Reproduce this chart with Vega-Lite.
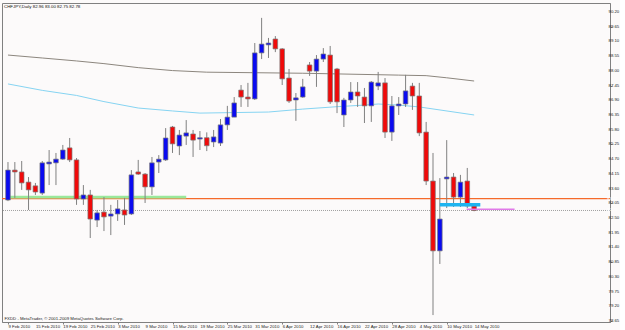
{
  "$schema": "https://vega.github.io/schema/vega-lite/v6.json",
  "width": 608,
  "height": 319,
  "padding": {"left": 1, "top": 3, "right": 0, "bottom": 0},
  "background": "#FCFAFA",
  "config": {
    "view": {"stroke": "#808080", "strokeWidth": 1},
    "font": "Liberation Sans",
    "axis": {"labels": false, "tickSize": 2, "tickColor": "#808080", "domainColor": "#808080", "grid": false}
  },
  "title": {"text": "CHFJPY,Daily  82.96 83.00 82.75 82.78", "anchor": "start", "frame": "group", "orient": "top", "offset": -6, "fontSize": 4.4, "fontWeight": "normal", "font": "Liberation Sans", "color": "#111111", "dx": 2},
  "datasets": {
    "candles": [
      {"i":0,"o":83.17,"h":84.59,"l":83.13,"c":84.29},
      {"i":1,"o":84.29,"h":84.59,"l":83.25,"c":84.22},
      {"i":2,"o":84.22,"h":84.63,"l":83.55,"c":83.81},
      {"i":3,"o":83.84,"h":84.03,"l":82.80,"c":83.55},
      {"i":4,"o":83.70,"h":83.81,"l":83.36,"c":83.47},
      {"i":5,"o":83.43,"h":84.63,"l":83.36,"c":84.56},
      {"i":6,"o":84.52,"h":85.04,"l":83.73,"c":84.59},
      {"i":7,"o":84.56,"h":84.93,"l":83.73,"c":84.70},
      {"i":8,"o":84.70,"h":85.23,"l":84.67,"c":85.04},
      {"i":9,"o":85.12,"h":85.49,"l":84.59,"c":84.67},
      {"i":10,"o":84.67,"h":84.74,"l":82.99,"c":83.21},
      {"i":11,"o":83.21,"h":83.73,"l":82.99,"c":83.36},
      {"i":12,"o":83.36,"h":83.55,"l":81.75,"c":82.46},
      {"i":13,"o":82.42,"h":82.80,"l":82.16,"c":82.69},
      {"i":14,"o":82.72,"h":83.28,"l":82.01,"c":82.54},
      {"i":15,"o":82.57,"h":82.99,"l":81.86,"c":82.65},
      {"i":16,"o":82.65,"h":83.17,"l":82.39,"c":82.84},
      {"i":17,"o":82.80,"h":83.25,"l":82.24,"c":82.61},
      {"i":18,"o":82.65,"h":84.29,"l":82.61,"c":84.11},
      {"i":19,"o":84.22,"h":84.67,"l":84.11,"c":84.14},
      {"i":20,"o":84.14,"h":84.18,"l":83.06,"c":83.66},
      {"i":21,"o":83.66,"h":84.78,"l":83.36,"c":84.56},
      {"i":22,"o":84.59,"h":84.85,"l":84.18,"c":84.70},
      {"i":23,"o":84.67,"h":85.86,"l":84.63,"c":85.49},
      {"i":24,"o":85.90,"h":85.94,"l":84.93,"c":85.27},
      {"i":25,"o":85.19,"h":85.79,"l":84.85,"c":85.60},
      {"i":26,"o":85.56,"h":86.16,"l":85.23,"c":85.68},
      {"i":27,"o":85.64,"h":85.79,"l":84.78,"c":85.41},
      {"i":28,"o":85.45,"h":85.75,"l":85.04,"c":85.50},
      {"i":29,"o":85.50,"h":85.70,"l":85.00,"c":85.20},
      {"i":30,"o":85.34,"h":85.79,"l":85.15,"c":85.53},
      {"i":31,"o":85.30,"h":86.20,"l":85.19,"c":85.98},
      {"i":32,"o":85.98,"h":86.69,"l":85.79,"c":86.27},
      {"i":33,"o":86.27,"h":87.02,"l":86.27,"c":86.80},
      {"i":34,"o":87.28,"h":87.47,"l":86.65,"c":87.02},
      {"i":35,"o":87.02,"h":87.55,"l":86.65,"c":86.95},
      {"i":36,"o":86.95,"h":89.04,"l":86.91,"c":88.67},
      {"i":37,"o":88.67,"h":89.98,"l":88.44,"c":89.00},
      {"i":38,"o":88.97,"h":89.23,"l":88.48,"c":89.04},
      {"i":39,"o":89.19,"h":89.30,"l":88.70,"c":88.82},
      {"i":40,"o":88.82,"h":88.85,"l":87.47,"c":87.70},
      {"i":41,"o":87.73,"h":88.07,"l":86.80,"c":86.87},
      {"i":42,"o":86.91,"h":87.17,"l":86.13,"c":86.99},
      {"i":43,"o":87.02,"h":87.70,"l":86.99,"c":87.40},
      {"i":44,"o":88.22,"h":88.33,"l":87.81,"c":87.99},
      {"i":45,"o":87.99,"h":88.59,"l":87.40,"c":88.44},
      {"i":46,"o":88.44,"h":88.85,"l":88.33,"c":88.63},
      {"i":47,"o":88.59,"h":88.93,"l":86.76,"c":86.84},
      {"i":48,"o":88.07,"h":88.11,"l":86.42,"c":86.84},
      {"i":49,"o":86.35,"h":86.99,"l":85.90,"c":86.91},
      {"i":50,"o":86.91,"h":87.58,"l":86.80,"c":87.21},
      {"i":51,"o":87.21,"h":87.58,"l":86.65,"c":87.06},
      {"i":52,"o":87.02,"h":87.36,"l":86.05,"c":86.69},
      {"i":53,"o":86.69,"h":87.62,"l":86.09,"c":87.58},
      {"i":54,"o":87.43,"h":87.96,"l":87.28,"c":87.55},
      {"i":55,"o":87.55,"h":87.73,"l":85.49,"c":85.71},
      {"i":56,"o":85.71,"h":87.06,"l":85.38,"c":86.69},
      {"i":57,"o":86.69,"h":87.02,"l":86.35,"c":86.76},
      {"i":58,"o":86.76,"h":87.85,"l":86.65,"c":87.25},
      {"i":59,"o":87.43,"h":87.55,"l":86.54,"c":87.06},
      {"i":60,"o":87.06,"h":87.55,"l":85.56,"c":85.68},
      {"i":61,"o":85.71,"h":86.09,"l":83.73,"c":83.88},
      {"i":62,"o":83.88,"h":84.93,"l":78.87,"c":81.27},
      {"i":63,"o":81.27,"h":83.99,"l":80.78,"c":82.46},
      {"i":64,"o":83.96,"h":85.41,"l":82.87,"c":84.03},
      {"i":65,"o":84.03,"h":84.18,"l":82.91,"c":83.28},
      {"i":66,"o":83.28,"h":84.11,"l":82.91,"c":83.84},
      {"i":67,"o":83.88,"h":84.37,"l":82.87,"c":82.95},
      {"i":68,"o":82.96,"h":83.00,"l":82.75,"c":82.78}
    ],
    "ma": [
      {"ma":"slow","i":0,"p":88.59},{"ma":"slow","i":5,"p":88.48},{"ma":"slow","i":10,"p":88.37},{"ma":"slow","i":14,"p":88.27},{"ma":"slow","i":19,"p":88.12},{"ma":"slow","i":24,"p":88.01},{"ma":"slow","i":29,"p":87.95},{"ma":"slow","i":43,"p":87.91},{"ma":"slow","i":57,"p":87.84},{"ma":"slow","i":61,"p":87.82},{"ma":"slow","i":64,"p":87.74},{"ma":"slow","i":68,"p":87.62},
      {"ma":"fast","i":0,"p":87.51},{"ma":"fast","i":5,"p":87.27},{"ma":"fast","i":10,"p":87.08},{"ma":"fast","i":14,"p":86.85},{"ma":"fast","i":19,"p":86.61},{"ma":"fast","i":24,"p":86.50},{"ma":"fast","i":28,"p":86.42},{"ma":"fast","i":38,"p":86.46},{"ma":"fast","i":43,"p":86.57},{"ma":"fast","i":48,"p":86.66},{"ma":"fast","i":52,"p":86.72},{"ma":"fast","i":54,"p":86.76},{"ma":"fast","i":57,"p":86.72},{"ma":"fast","i":60,"p":86.65},{"ma":"fast","i":68,"p":86.35}
    ],
    "ylabels": [
      {"v":78.65,"t":"78.65"},{"v":79.2,"t":"79.20"},{"v":79.75,"t":"79.75"},{"v":80.3,"t":"80.30"},{"v":80.85,"t":"80.85"},{"v":81.4,"t":"81.40"},{"v":81.95,"t":"81.95"},{"v":82.5,"t":"82.50"},{"v":83.05,"t":"83.05"},{"v":83.6,"t":"83.60"},{"v":84.15,"t":"84.15"},{"v":84.7,"t":"84.70"},{"v":85.25,"t":"85.25"},{"v":85.8,"t":"85.80"},{"v":86.35,"t":"86.35"},{"v":86.9,"t":"86.90"},{"v":87.45,"t":"87.45"},{"v":88.0,"t":"88.00"},{"v":88.55,"t":"88.55"},{"v":89.1,"t":"89.10"},{"v":89.65,"t":"89.65"},{"v":90.2,"t":"90.20"}
    ],
    "xlabels": [
      {"i":0,"t":"9 Feb 2010"},{"i":4,"t":"15 Feb 2010"},{"i":8,"t":"19 Feb 2010"},{"i":12,"t":"25 Feb 2010"},{"i":16,"t":"3 Mar 2010"},{"i":20,"t":"9 Mar 2010"},{"i":24,"t":"15 Mar 2010"},{"i":28,"t":"19 Mar 2010"},{"i":32,"t":"25 Mar 2010"},{"i":36,"t":"31 Mar 2010"},{"i":40,"t":"6 Apr 2010"},{"i":44,"t":"12 Apr 2010"},{"i":48,"t":"16 Apr 2010"},{"i":52,"t":"22 Apr 2010"},{"i":56,"t":"28 Apr 2010"},{"i":60,"t":"4 May 2010"},{"i":64,"t":"10 May 2010"},{"i":68,"t":"14 May 2010"}
    ]
  },
  "layer": [
    {
      "data": {"name": "candles"},
      "mark": {"type": "rule", "color": "#808080", "strokeWidth": 1, "clip": true, "opacity": 0},
      "encoding": {
        "x": {"field": "i", "type": "quantitative", "scale": {"domain": [-0.143, 87.09], "nice": false, "zero": false},
          "axis": {"values": [0,4,8,12,16,20,24,28,32,36,40,44,48,52,56,60,64,68], "labels": false,
            "title": "FXDD - MetaTrader, © 2001-2009 MetaQuotes Software Corp.", "titleFontSize": 4.3, "titleFont": "Liberation Sans", "titleFontWeight": "normal", "titleColor": "#222222",
            "titleAnchor": "start", "titleAlign": "left", "titleBaseline": "bottom", "titleX": 2, "titleY": -1.5}},
        "y": {"field": "l", "type": "quantitative", "scale": {"domain": [78.611, 90.536], "nice": false, "zero": false},
          "axis": {"orient": "right", "values": [78.65,79.2,79.75,80.3,80.85,81.4,81.95,82.5,83.05,83.6,84.15,84.7,85.25,85.8,86.35,86.9,87.45,88.0,88.55,89.1,89.65,90.2], "labels": false, "title": null}},
        "y2": {"field": "h"}
      }
    },
    {
      "mark": {"type": "rect", "color": "#90EE90", "opacity": 0.85},
      "encoding": {
        "x": {"datum": 64.85, "type": "quantitative"},
        "x2": {"datum": 68.0},
        "y": {"datum": 84.52, "type": "quantitative"},
        "y2": {"datum": 82.84}
      }
    },
    {
      "data": {"values": [{"p": 82.78}]},
      "mark": {"type": "rule", "color": "#A0A0A0", "strokeWidth": 1, "strokeDash": [1, 1]},
      "encoding": {"y": {"field": "p", "type": "quantitative"}}
    },
    {
      "data": {"values": [{"p": 83.22}]},
      "mark": {"type": "rule", "color": "#F56A2A", "strokeWidth": 1.3},
      "encoding": {"y": {"field": "p", "type": "quantitative"}}
    },
    {
      "data": {"values": [{"x1": -0.2, "x2": 26.0, "p": 83.28}]},
      "mark": {"type": "rule", "color": "#9AE89A", "strokeWidth": 2.6, "clip": true},
      "encoding": {
        "x": {"field": "x1", "type": "quantitative"},
        "x2": {"field": "x2"},
        "y": {"field": "p", "type": "quantitative"}
      }
    },
    {
      "data": {"name": "ma"},
      "mark": {"type": "line", "strokeWidth": 1, "clip": true},
      "encoding": {
        "x": {"field": "i", "type": "quantitative"},
        "y": {"field": "p", "type": "quantitative"},
        "color": {"field": "ma", "type": "nominal", "scale": {"domain": ["slow", "fast"], "range": ["#8C867E", "#86D4F2"]}, "legend": null}
      }
    },
    {
      "data": {"name": "candles"},
      "mark": {"type": "rule", "color": "#808080", "strokeWidth": 1, "clip": true},
      "encoding": {
        "x": {"field": "i", "type": "quantitative"},
        "y": {"field": "l", "type": "quantitative"},
        "y2": {"field": "h"}
      }
    },
    {
      "data": {"name": "candles"},
      "mark": {"type": "bar", "width": 4.6, "stroke": "#7A7A7A", "strokeWidth": 0.7, "clip": true},
      "encoding": {
        "x": {"field": "i", "type": "quantitative"},
        "y": {"field": "o", "type": "quantitative"},
        "y2": {"field": "c"},
        "color": {"condition": {"test": "datum.c >= datum.o", "value": "#0A0AF0"}, "value": "#F00A0A"}
      }
    },
    {
      "data": {"values": [{"x1": 63.0, "x2": 68.9, "p": 82.99}]},
      "mark": {"type": "rule", "color": "#1EB4F0", "strokeWidth": 3.5},
      "encoding": {
        "x": {"field": "x1", "type": "quantitative"},
        "x2": {"field": "x2"},
        "y": {"field": "p", "type": "quantitative"}
      }
    },
    {
      "data": {"values": [{"x1": 66.9, "x2": 73.9, "p": 82.83}]},
      "mark": {"type": "rule", "color": "#E07AE8", "strokeWidth": 1.5},
      "encoding": {
        "x": {"field": "x1", "type": "quantitative"},
        "x2": {"field": "x2"},
        "y": {"field": "p", "type": "quantitative"}
      }
    },
    {
      "data": {"name": "ylabels"},
      "mark": {"type": "text", "align": "left", "baseline": "middle", "dx": 3.5, "fontSize": 4.3, "font": "Liberation Sans", "color": "#222222", "clip": false},
      "encoding": {
        "x": {"datum": 87.09, "type": "quantitative"},
        "y": {"field": "v", "type": "quantitative"},
        "text": {"field": "t"}
      }
    },
    {
      "data": {"name": "xlabels"},
      "mark": {"type": "text", "align": "left", "baseline": "top", "dy": 3, "dx": 0.5, "fontSize": 4.3, "font": "Liberation Sans", "color": "#222222", "clip": false},
      "encoding": {
        "x": {"field": "i", "type": "quantitative"},
        "y": {"datum": 78.611, "type": "quantitative"},
        "text": {"field": "t"}
      }
    },
    {
      "mark": {"type": "rect", "color": "#F56A2A", "clip": false},
      "encoding": {
        "x": {"datum": 87.09, "type": "quantitative"},
        "x2": {"datum": 89.0},
        "y": {"datum": 83.32, "type": "quantitative"},
        "y2": {"datum": 83.12}
      }
    },
    {
      "mark": {"type": "rect", "color": "#1A1A2A", "clip": false},
      "encoding": {
        "x": {"datum": 87.09, "type": "quantitative"},
        "x2": {"datum": 89.0},
        "y": {"datum": 82.88, "type": "quantitative"},
        "y2": {"datum": 82.68}
      }
    },
    {
      "data": {"values": [{"p": 83.22, "t": "83.22"}, {"p": 82.78, "t": "82.78"}]},
      "mark": {"type": "text", "align": "left", "baseline": "middle", "dx": 2, "fontSize": 4.3, "font": "Liberation Sans", "color": "#FFFFFF", "clip": false},
      "encoding": {
        "x": {"datum": 87.09, "type": "quantitative"},
        "y": {"field": "p", "type": "quantitative"},
        "text": {"field": "t"}
      }
    }
  ]
}
